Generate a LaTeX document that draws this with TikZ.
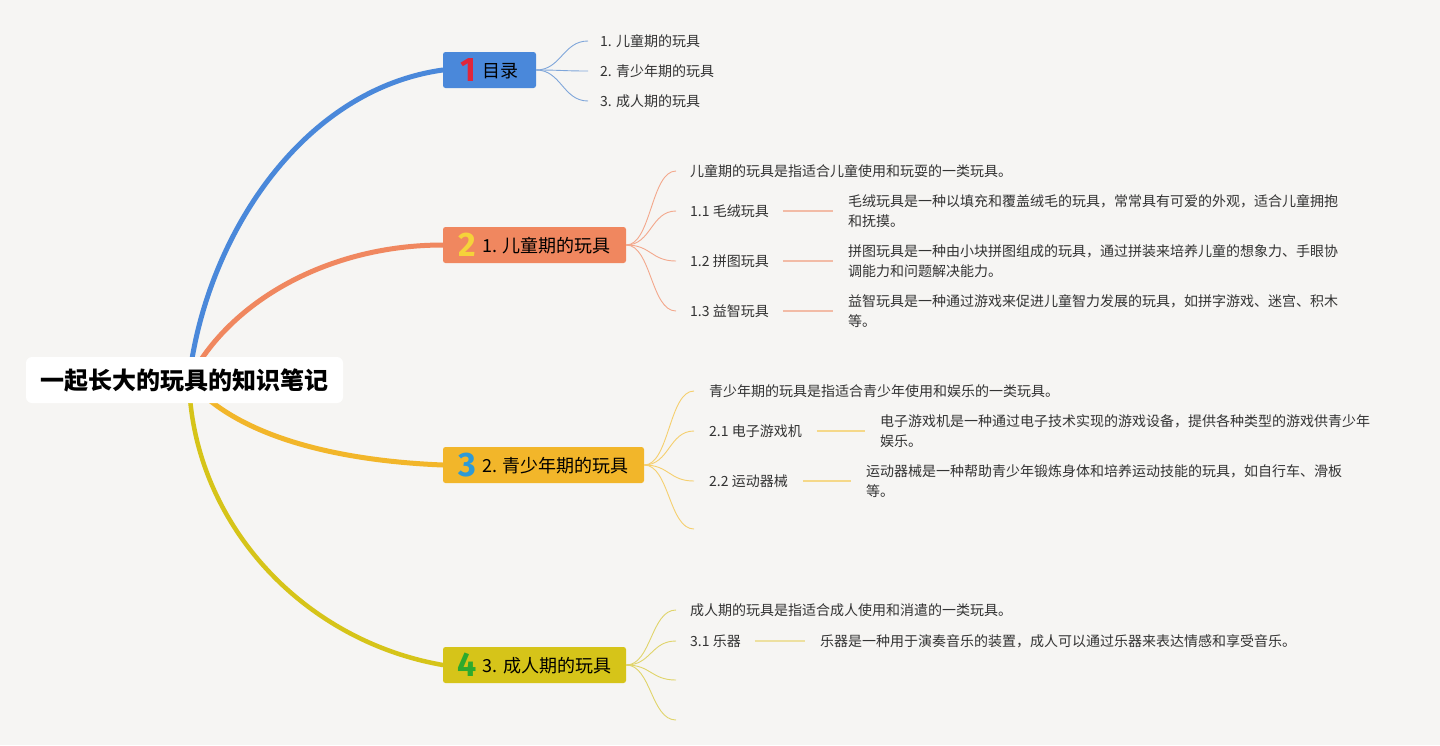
\documentclass[tikz,border=0pt]{standalone}
\usepackage{fontspec}
\setmainfont{Noto Sans CJK SC}
\newfontfamily\numfont{Fira Sans}
\usetikzlibrary{backgrounds,calc}
\definecolor{bgc}{HTML}{F6F5F3}
\definecolor{cA}{HTML}{4A88DA}
\definecolor{cB}{HTML}{F0875F}
\definecolor{cC}{HTML}{F2B62A}
\definecolor{cD}{HTML}{D6C419}
\definecolor{lA}{HTML}{7FA6DA}
\definecolor{lB}{HTML}{F3A88C}
\definecolor{lC}{HTML}{F5CF6E}
\definecolor{lD}{HTML}{E0D46A}
\definecolor{hB}{HTML}{F2BBA6}
\definecolor{hC}{HTML}{F5D889}
\definecolor{hD}{HTML}{EDE0A0}
\definecolor{nA}{HTML}{E0263A}
\definecolor{nB}{HTML}{F5D33A}
\definecolor{nC}{HTML}{2E9AD6}
\definecolor{nD}{HTML}{2DAA2D}
\definecolor{txt}{HTML}{333333}
\newcommand{\bignum}[2]{\raisebox{-4pt}{\numfont\bfseries\fontsize{34}{34}\selectfont\color{#1}#2}\hspace{6pt}}
\tikzset{
  rootbox/.style={fill=white, rounded corners=6pt, minimum width=317pt, minimum height=46pt,
    inner sep=0pt, font=\bfseries\fontsize{24}{28}\selectfont, text=black},
  brbox/.style={rounded corners=2.5pt, minimum height=36pt, inner sep=0pt,
    text height=15.6pt, text depth=0pt,
    font=\fontsize{18}{20}\selectfont, text=black},
  subtxt/.style={anchor=west, inner xsep=14pt, inner ysep=2pt, font=\fontsize{14}{20}\selectfont, text=txt, align=left},
  desc/.style={anchor=west, inner xsep=15pt, inner ysep=2pt, font=\fontsize{14}{20}\selectfont, text=txt, align=left},
  mainline/.style={line width=5pt, line cap=round},
  thinline/.style={line width=0.9pt},
  hline/.style={line width=1.6pt},
}
\begin{document}
\begin{tikzpicture}[x=1pt,y=-1pt]
\begin{scope}[on background layer]
\fill[bgc] (0,0) rectangle (1440,745);
\end{scope}
\useasboundingbox (0,0) rectangle (1440,745);

% root
\node[rootbox] (root) at (184.5,380) {一起长大的玩具的知识笔记};
\coordinate (o) at (189,380);

% branch boxes
\node[brbox, fill=cA, minimum width=93pt] (b1) at (489.5,70) {\bignum{nA}{1}目录};
\node[brbox, fill=cB, minimum width=183pt] (b2) at (534.5,245) {\bignum{nB}{2}1. 儿童期的玩具};
\node[brbox, fill=cC, minimum width=201pt] (b3) at (543.5,465) {\bignum{nC}{3}2. 青少年期的玩具};
\node[brbox, fill=cD, minimum width=183pt] (b4) at (534.5,665) {\bignum{nD}{4}3. 成人期的玩具};

% branch 1 children
\node[subtxt, inner xsep=12pt] (a1) at (588,41) {1. 儿童期的玩具};
\node[subtxt, inner xsep=12pt] (a2) at (588,71) {2. 青少年期的玩具};
\node[subtxt, inner xsep=12pt] (a3) at (588,101) {3. 成人期的玩具};

% branch 2 children
\node[subtxt] (p0) at (676,171) {儿童期的玩具是指适合儿童使用和玩耍的一类玩具。};
\node[subtxt] (p1) at (676,211) {1.1 毛绒玩具};
\node[subtxt] (p2) at (676,261) {1.2 拼图玩具};
\node[subtxt] (p3) at (676,311) {1.3 益智玩具};
\node[desc] (d1) at (833,211) {毛绒玩具是一种以填充和覆盖绒毛的玩具，常常具有可爱的外观，适合儿童拥抱\\和抚摸。};
\node[desc] (d2) at (833,261) {拼图玩具是一种由小块拼图组成的玩具，通过拼装来培养儿童的想象力、手眼协\\调能力和问题解决能力。};
\node[desc] (d3) at (833,311) {益智玩具是一种通过游戏来促进儿童智力发展的玩具，如拼字游戏、迷宫、积木\\等。};

% branch 3 children
\node[subtxt, inner xsep=15pt] (q0) at (694,391) {青少年期的玩具是指适合青少年使用和娱乐的一类玩具。};
\node[subtxt, inner xsep=15pt] (q1) at (694,431) {2.1 电子游戏机};
\node[subtxt, inner xsep=15pt] (q2) at (694,481) {2.2 运动器械};
\coordinate (q3) at (694,529);
\node[desc] (e1) at (865,431) {电子游戏机是一种通过电子技术实现的游戏设备，提供各种类型的游戏供青少年\\娱乐。};
\node[desc] (e2) at (851,481) {运动器械是一种帮助青少年锻炼身体和培养运动技能的玩具，如自行车、滑板\\等。};

% branch 4 children
\node[subtxt] (r0) at (676,610) {成人期的玩具是指适合成人使用和消遣的一类玩具。};
\node[subtxt] (r1) at (676,641) {3.1 乐器};
\coordinate (r2) at (676,680);
\coordinate (r3) at (676,720);
\node[desc] (f1) at (805,641) {乐器是一种用于演奏音乐的装置，成人可以通过乐器来表达情感和享受音乐。};

\begin{scope}[on background layer]
% main curves
\draw[mainline, cA] (o) .. controls (205,240) and (300,90) .. (b1.west);
\draw[mainline, cB] (o) .. controls (230,300) and (330,245) .. (b2.west);
\draw[mainline, cC] (o) .. controls (230,430) and (320,460) .. (b3.west);
\draw[mainline, cD, line width=4.5pt] (o) .. controls (192,520) and (300,640) .. (b4.west);
\end{scope}

% thin sub curves
\foreach \t in {a1,a2,a3}
  \draw[thinline, lA] (b1.east) .. controls +(25,0) and +(-25,0) .. (\t.west);
\foreach \t in {p0,p1,p2,p3}
  \draw[thinline, lB] (b2.east) .. controls +(25,0) and +(-25,0) .. (\t.west);
\foreach \t in {q0,q1,q2}
  \draw[thinline, lC] (b3.east) .. controls +(25,0) and +(-25,0) .. (\t.west);
\draw[thinline, lC] (b3.east) .. controls +(25,0) and +(-25,0) .. (q3);
\foreach \t in {r0,r1}
  \draw[thinline, lD] (b4.east) .. controls +(25,0) and +(-25,0) .. (\t.west);
\foreach \t in {r2,r3}
  \draw[thinline, lD] (b4.east) .. controls +(25,0) and +(-25,0) .. (\t);

% horizontal connectors
\draw[hline, hB] (p1.east) -- (d1.west);
\draw[hline, hB] (p2.east) -- (d2.west);
\draw[hline, hB] (p3.east) -- (d3.west);
\draw[hline, hC] (q1.east) -- (e1.west);
\draw[hline, hC] (q2.east) -- (e2.west);
\draw[hline, hD] (r1.east) -- (f1.west);
\end{tikzpicture}
\end{document}
